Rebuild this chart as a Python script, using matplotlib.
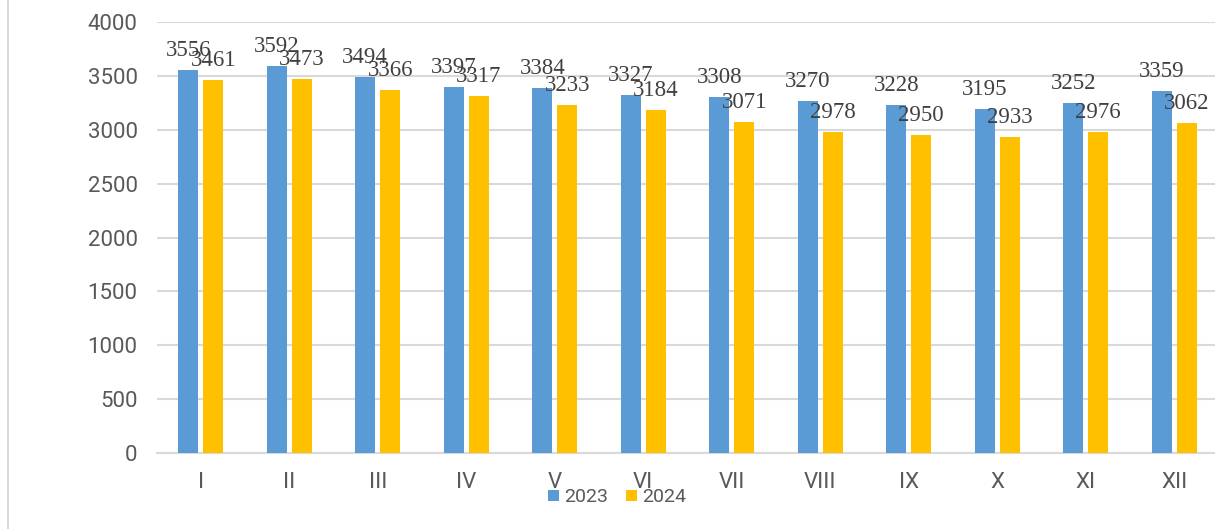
import matplotlib.pyplot as plt
import numpy as np
from matplotlib.lines import Line2D

months = ["I", "II", "III", "IV", "V", "VI", "VII", "VIII", "IX", "X", "XI", "XII"]
values_2023 = [3556, 3592, 3494, 3397, 3384, 3327, 3308, 3270, 3228, 3195, 3252, 3359]
values_2024 = [3461, 3473, 3366, 3317, 3233, 3184, 3071, 2978, 2950, 2933, 2976, 3062]

blue = "#5B9BD5"
gold = "#FFC000"
grey_text = "#595959"
grid = "#D9D9D9"

fig = plt.figure(figsize=(12.15, 5.29), dpi=100)
ax = fig.add_axes([157 / 1215, 1 - 453 / 529, 1 - 157 / 1215, (453 - 22) / 529])

x = np.arange(len(months))
off = 0.141
w = 0.225
b1 = ax.bar(x - off, values_2023, w, color=blue, label="2023", zorder=3)
b2 = ax.bar(x + off, values_2024, w, color=gold, label="2024", zorder=3)

# подписи значений над столбиками
for bars, vals in ((b1, values_2023), (b2, values_2024)):
    for r, v in zip(bars, vals):
        ax.annotate(str(v), (r.get_x() + r.get_width() / 2, v),
                    xytext=(0, 10), textcoords="offset points",
                    ha="center", va="baseline", fontsize=16.5,
                    family="Liberation Serif", color="#404040", zorder=4)

ax.set_xlim(-0.494, 11.46)
ax.set_ylim(0, 4000)
ax.set_yticks(range(0, 4001, 500))
ax.set_xticks(x)
ax.set_xticklabels(months)
ax.yaxis.grid(True, color=grid, linewidth=1.5, zorder=0)
ax.set_axisbelow(True)
for s in ["top", "right", "left"]:
    ax.spines[s].set_visible(False)
ax.spines["bottom"].set_color(grid)
ax.spines["bottom"].set_linewidth(1.5)
ax.tick_params(axis="both", length=0, labelcolor=grey_text, labelsize=16)
ax.tick_params(axis="y", pad=14)
ax.tick_params(axis="x", pad=14)
for t in ax.get_xticklabels() + ax.get_yticklabels():
    t.set_family("Roboto")

fig.legend(handles=[b1, b2], loc="center", bbox_to_anchor=(0.508, 0.06), ncol=2,
           frameon=False, handlelength=0.55, handleheight=0.55, handletextpad=0.3,
           columnspacing=0.9, prop={"family": "Roboto", "size": 14},
           labelcolor=grey_text)

fig.add_artist(Line2D([8 / 1215, 8 / 1215], [0, 1], color=grid, linewidth=1.5))

fig.savefig("out.png", dpi=100)
